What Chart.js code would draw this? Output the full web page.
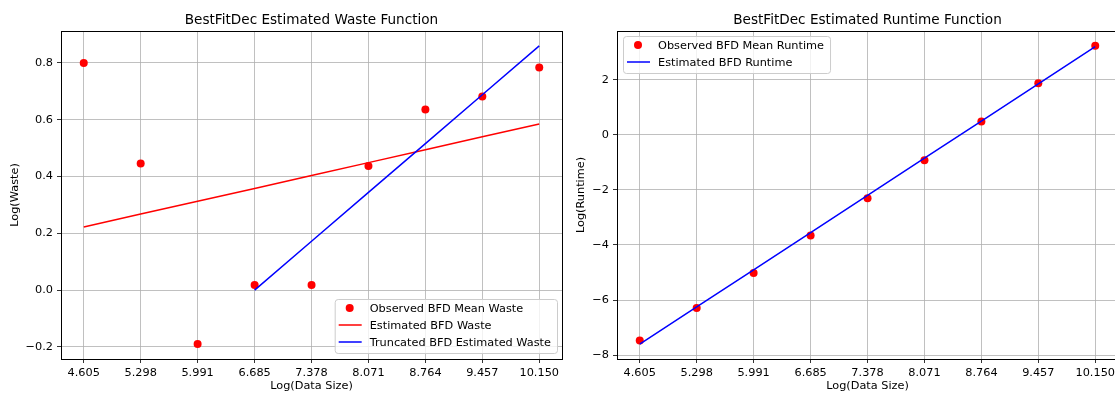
<!DOCTYPE html>
<html>
<head>
<meta charset="utf-8">
<script src="https://cdn.jsdelivr.net/npm/chart.js@4.4.1/dist/chart.umd.min.js"></script>
<style>
  html, body { margin: 0; padding: 0; background: #fff; overflow: hidden; }
  body { width: 1115px; height: 395px; position: relative; }
  .box { position: absolute; top: 0; height: 395px; }
</style>
</head>
<body>
<div class="box" style="left:0;width:580px"><canvas id="wasteChart"></canvas></div>
<div class="box" style="left:560px;width:575px"><canvas id="runtimeChart"></canvas></div>
<script>
// log of data size (x), same for both plots
const sizeLog = [4.605, 5.298, 5.991, 6.685, 7.378, 8.071, 8.764, 9.457, 10.150];
const xTickLabels = ['4.605', '5.298', '5.991', '6.685', '7.378', '8.071', '8.764', '9.457', '10.150'];

// waste
const wasteObs = [0.800, 0.446, -0.190, 0.018, 0.018, 0.437, 0.636, 0.682, 0.784];
const wasteFit = [0.222, 0.268, 0.313, 0.358, 0.404, 0.449, 0.494, 0.540, 0.585];
const truncSizeLog = [6.685, 7.378, 8.071, 8.764, 9.457, 10.150];
const wasteTrunc = [0.000, 0.172, 0.344, 0.516, 0.688, 0.860];
const wasteTicks = [-0.2, 0.0, 0.2, 0.4, 0.6, 0.8];

// runtime
const runtimeObs = [-7.47, -6.29, -5.02, -3.66, -2.30, -0.92, 0.48, 1.87, 3.23];
const runtimeFit = [-7.60, -6.25, -4.90, -3.55, -2.20, -0.85, 0.50, 1.85, 3.20];
const runtimeTicks = [-8, -6, -4, -2, 0, 2];

const FONT = 'DejaVu Sans';
const FS = 11.3;
Chart.defaults.font.family = FONT;
Chart.defaults.font.size = FS;
Chart.defaults.color = '#000';

function pts(xs, ys) {
  return xs.map((x, i) => ({ x: x, y: ys[i] }));
}
function minus(s) { return String(s).replace('-', '\u2212'); }

// frame, title and in-axes legend like matplotlib
const mplPlugin = {
  id: 'mpl',
  afterDraw(chart, args, opts) {
    const ctx = chart.ctx;
    const a = chart.chartArea;
    ctx.save();
    ctx.strokeStyle = '#000';
    ctx.lineWidth = 1;
    ctx.strokeRect(Math.round(a.left) + 0.5, Math.round(a.top) + 0.5,
      Math.round(a.right - a.left), Math.round(a.bottom - a.top));

    ctx.fillStyle = '#000';
    ctx.font = '13.6px "' + FONT + '"';
    ctx.textAlign = 'center';
    ctx.textBaseline = 'alphabetic';
    ctx.fillText(opts.title, (a.left + a.right) / 2, 24);

    // legend
    const items = chart.data.datasets;
    ctx.font = FS + 'px "' + FONT + '"';
    let tw = 0;
    items.forEach(d => { tw = Math.max(tw, ctx.measureText(d.label).width); });
    const w = 35 + tw + 6;
    const h = 17 * items.length + 3;
    let x0, y0;
    if (opts.legendPos === 'lower right') {
      x0 = a.right - 5 - w; y0 = a.bottom - 6 - h;
    } else {
      x0 = a.left + 6; y0 = a.top + 5;
    }
    ctx.beginPath();
    ctx.roundRect(x0 + 0.5, y0 + 0.5, w, h, 3);
    ctx.fillStyle = 'rgba(255,255,255,0.8)';
    ctx.fill();
    ctx.strokeStyle = '#cccccc';
    ctx.lineWidth = 1;
    ctx.stroke();
    items.forEach((d, i) => {
      const cy = y0 + 9 + 17 * i;
      if (d.showLine) {
        ctx.strokeStyle = d.borderColor;
        ctx.lineWidth = d.borderWidth;
        ctx.beginPath();
        ctx.moveTo(x0 + 4, cy);
        ctx.lineTo(x0 + 27, cy);
        ctx.stroke();
      } else {
        ctx.fillStyle = d.backgroundColor;
        ctx.beginPath();
        ctx.arc(x0 + 15, cy, 4, 0, Math.PI * 2);
        ctx.fill();
      }
      ctx.fillStyle = '#000';
      ctx.textAlign = 'left';
      ctx.fillText(d.label, x0 + 35, cy + 4);
    });
    ctx.restore();
  }
};

function makeAxes(yMin, yMax, yTicks, yTitle, yWidth, yTitlePad) {
  const grid = { color: '#b0b0b0', lineWidth: 0.8, tickColor: '#000', tickLength: 4, tickWidth: 0.8 };
  return {
    x: {
      type: 'linear', min: 4.328, max: 10.427,
      grid: grid, border: { display: false },
      afterBuildTicks: s => { s.ticks = sizeLog.map(v => ({ value: v })); },
      afterFit: s => { s.height = 36; },
      ticks: { padding: 3, maxRotation: 0, autoSkip: false, callback: (v, i) => xTickLabels[i] },
      title: { display: true, text: 'Log(Data Size)', padding: { top: 0, bottom: 2 } }
    },
    y: {
      type: 'linear', min: yMin, max: yMax,
      grid: grid, border: { display: false },
      afterBuildTicks: s => { s.ticks = yTicks.map(v => ({ value: v })); },
      afterFit: s => { s.width = yWidth; },
      ticks: { padding: 4, autoSkip: false, callback: v => minus(Number.isInteger(v) && Math.abs(yTicks[1] - yTicks[0]) >= 1 ? v : v.toFixed(1)) },
      title: { display: true, text: yTitle, padding: { top: yTitlePad, bottom: 0 } }
    }
  };
}

const baseOpts = {
  responsive: true,
  maintainAspectRatio: false,
  animation: false,
  events: [],
  plugins: { legend: { display: false }, tooltip: { enabled: false } }
};

new Chart(document.getElementById('wasteChart'), {
  type: 'scatter',
  data: {
    datasets: [
      { label: 'Observed BFD Mean Waste', data: pts(sizeLog, wasteObs), backgroundColor: '#ff0000',
        borderWidth: 0, pointRadius: 4, showLine: false, order: 3 },
      { label: 'Estimated BFD Waste', data: pts(sizeLog, wasteFit), borderColor: '#ff0000', borderWidth: 1.5,
        pointRadius: 0, showLine: true, fill: false, order: 2 },
      { label: 'Truncated BFD Estimated Waste', data: pts(truncSizeLog, wasteTrunc), borderColor: '#0000ff', borderWidth: 1.5,
        pointRadius: 0, showLine: true, fill: false, order: 1 }
    ]
  },
  options: Object.assign({}, baseOpts, {
    layout: { padding: { left: 0, right: 18, top: 31, bottom: 0 } },
    scales: makeAxes(-0.2425, 0.9125, wasteTicks, 'Log(Waste)', 61, 8),
    plugins: Object.assign({}, baseOpts.plugins, {
      mpl: { title: 'BestFitDec Estimated Waste Function', legendPos: 'lower right' }
    })
  }),
  plugins: [mplPlugin]
});

new Chart(document.getElementById('runtimeChart'), {
  type: 'scatter',
  data: {
    datasets: [
      { label: 'Observed BFD Mean Runtime', data: pts(sizeLog, runtimeObs), backgroundColor: '#ff0000',
        borderWidth: 0, pointRadius: 4, showLine: false, order: 2 },
      { label: 'Estimated BFD Runtime', data: pts(sizeLog, runtimeFit), borderColor: '#0000ff', borderWidth: 1.5,
        pointRadius: 0, showLine: true, fill: false, order: 1 }
    ]
  },
  options: Object.assign({}, baseOpts, {
    layout: { padding: { left: 0, right: 17, top: 31, bottom: 0 } },
    scales: makeAxes(-8.14, 3.77, runtimeTicks, 'Log(Runtime)', 57, 14),
    plugins: Object.assign({}, baseOpts.plugins, {
      mpl: { title: 'BestFitDec Estimated Runtime Function', legendPos: 'upper left' }
    })
  }),
  plugins: [mplPlugin]
});
</script>
</body>
</html>
